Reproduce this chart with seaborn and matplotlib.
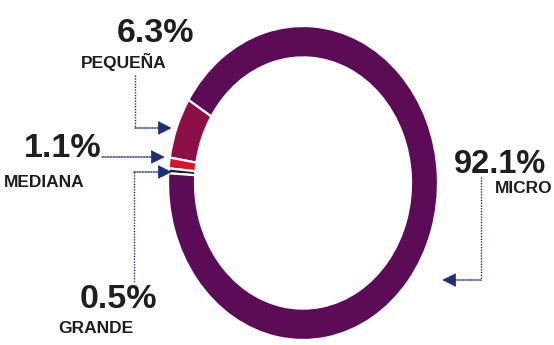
import matplotlib
matplotlib.use("Agg")
import matplotlib.pyplot as plt
import seaborn as sns

# Data
categories = ["PEQUEÑA", "MEDIANA", "GRANDE", "MICRO"]
shares = [6.3, 1.1, 0.5, 92.1]
labels = ["6.3%", "1.1%", "0.5%", "92.1%"]
colors = ["#8c0f47", "#d9142f", "#1c1c1c", "#5c0c57"]

sns.set_theme(style="white")
plt.rcParams['font.family'] = ['Liberation Sans', 'DejaVu Sans']

W, H = 554, 345
fig = plt.figure(figsize=(W / 100, H / 100), dpi=100)
fig.patch.set_facecolor("white")

# Donut axes (elliptical)
cx, cy, rx, ry = 303, 183, 135, 157
pie_ax = fig.add_axes([(cx - rx) / W, (H - (cy + ry)) / H, 2 * rx / W, 2 * ry / H])
pie_ax.pie(shares, colors=colors, startangle=148, counterclock=True,
           wedgeprops=dict(width=0.2, edgecolor="white", linewidth=1.6))
pie_ax.set_aspect("auto")
pie_ax.set_xlim(-1, 1)
pie_ax.set_ylim(-1, 1)
pie_ax.axis("off")

# Overlay axes in pixel coordinates for labels & leader lines
ov = fig.add_axes([0, 0, 1, 1])
ov.set_xlim(0, W)
ov.set_ylim(H, 0)
ov.axis("off")
ov.patch.set_alpha(0)

txt = "#1e1e1e"
navy = "#1f2d72"
big = 24.5
small = 12.5

# Labels
ov.text(194, 42, labels[0], fontsize=big, fontweight="bold", color=txt, ha="right", va="baseline")
ov.text(167, 68, categories[0], fontsize=small, fontweight="bold", color=txt, ha="right", va="baseline")
ov.text(101, 157, labels[1], fontsize=big, fontweight="bold", color=txt, ha="right", va="baseline")
ov.text(4, 187, categories[1], fontsize=small, fontweight="bold", color=txt, ha="left", va="baseline")
ov.text(157, 308, labels[2], fontsize=big, fontweight="bold", color=txt, ha="right", va="baseline")
ov.text(58, 333, categories[2], fontsize=small, fontweight="bold", color=txt, ha="left", va="baseline")
ov.text(546, 173, labels[3], fontsize=23.5, fontweight="bold", color=txt, ha="right", va="baseline")
ov.text(552, 193, categories[3], fontsize=small, fontweight="bold", color=txt, ha="right", va="baseline")

arrow = dict(arrowstyle="-|>,head_length=0.7,head_width=0.35", color=navy, lw=1.0,
             linestyle=(0, (1, 1)), shrinkA=0, shrinkB=0)

# PEQUEÑA leader
ov.plot([135, 135], [75, 128], color=navy, lw=1.0, linestyle=(0, (1, 1)))
ov.annotate("", xy=(172, 128), xytext=(135, 128), arrowprops=arrow)
# MEDIANA leader
ov.annotate("", xy=(165, 157), xytext=(102, 157), arrowprops=arrow)
# GRANDE leader
ov.plot([134, 134], [172, 282], color=navy, lw=1.0, linestyle=(0, (1, 1)))
ov.annotate("", xy=(172, 172), xytext=(134, 172), arrowprops=arrow)
# MICRO leader
ov.plot([481, 481], [177, 280], color=navy, lw=1.0, linestyle=(0, (1, 1)))
ov.annotate("", xy=(442, 280), xytext=(481, 280), arrowprops=arrow)

fig.savefig("out.png", dpi=100, facecolor="white")
